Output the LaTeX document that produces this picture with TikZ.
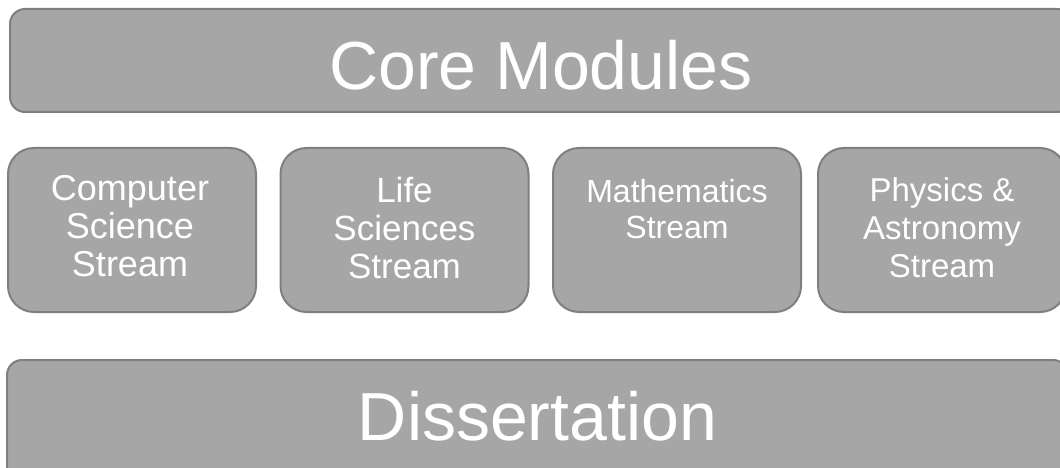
\documentclass[tikz,border=0pt]{standalone}
\usepackage{fontspec}
\setmainfont{Liberation Sans}
\definecolor{boxfill}{HTML}{A6A6A6}
\definecolor{boxline}{HTML}{7F7F7F}
\begin{document}
\begin{tikzpicture}[x=1pt,y=-1pt,
  panel/.style={draw=boxline, fill=boxfill, line width=2pt, rounded corners=15pt, inner sep=0pt},
  streambox/.style={panel, rounded corners=26pt, minimum width=248pt, minimum height=164pt},
  bigtext/.style={text=white, inner sep=0pt, font=\fontsize{68}{80}\selectfont, anchor=base},
  smalltext/.style={text=white, inner sep=0pt, align=center, anchor=north}
]
\useasboundingbox (0,0) rectangle (1060,468);
\clip (0,0) rectangle (1060,468);
% top panel
\node[panel, minimum width=1062pt, minimum height=103pt] (core) at (541,60.5) {};
\node[bigtext] (coretext) at (541,90) {Core Modules};
% streams
\node[streambox] (cs) at (132,230) {};
\node[streambox] (ls) at (404.5,230) {};
\node[streambox] (ms) at (677,230) {};
\node[streambox] (ps) at (942,230) {};
\node[smalltext, font=\fontsize{36}{38}\selectfont] (cstext) at (130,175) {Computer\\Science\\Stream};
\node[smalltext, font=\fontsize{35}{38}\selectfont] (lstext) at (404.5,177) {Life\\Sciences\\Stream};
\node[smalltext, font=\fontsize{32}{36}\selectfont] (mstext) at (677,179) {Mathematics\\Stream};
\node[smalltext, font=\fontsize{33}{38}\selectfont] (pstext) at (942,177) {Physics \&\\Astronomy\\Stream};
% bottom panel
\node[panel, minimum width=1061pt, minimum height=130pt] (diss) at (537.5,425) {};
\node[bigtext] (disstext) at (537.5,440) {Dissertation};
\end{tikzpicture}
\end{document}
